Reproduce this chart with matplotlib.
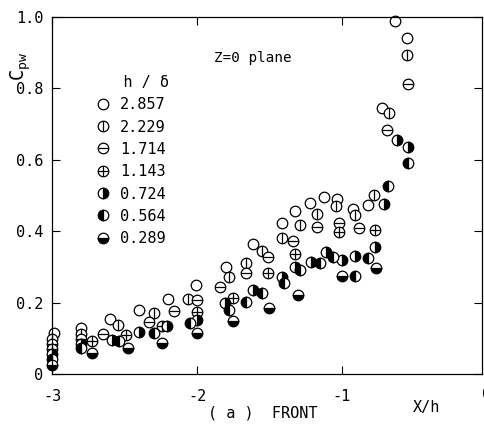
import matplotlib
matplotlib.use("Agg")
import matplotlib.pyplot as plt
from matplotlib.legend_handler import HandlerTuple

plt.rcParams['font.family'] = ['DejaVu Sans Mono', 'DejaVu Sans']
plt.rcParams['mathtext.fontset'] = 'dejavusans'
plt.rcParams['axes.unicode_minus'] = False

# h/delta values and data (X/h, Cpw)
h_delta = ['2.857', '2.229', '1.714', '1.143', '0.724', '0.564', '0.289']

x_2857 = [-2.99, -2.80, -2.60, -2.40, -2.20, -2.01, -1.80, -1.61, -1.41, -1.32,
          -1.22, -1.12, -1.03, -0.92, -0.82, -0.72, -0.63, -0.55]
y_2857 = [0.115, 0.130, 0.154, 0.178, 0.209, 0.250, 0.300, 0.365, 0.424, 0.456,
          0.480, 0.495, 0.490, 0.462, 0.474, 0.745, 0.988, 0.942]

x_2229 = [-3.0, -2.80, -2.55, -2.30, -2.06, -1.78, -1.66, -1.55, -1.41, -1.29,
          -1.17, -1.04, -0.91, -0.78, -0.67, -0.55]
y_2229 = [0.098, 0.112, 0.136, 0.172, 0.209, 0.272, 0.311, 0.345, 0.381, 0.417,
          0.447, 0.470, 0.446, 0.501, 0.732, 0.893]

x_1714 = [-3.0, -2.80, -2.65, -2.33, -2.16, -2.00, -1.84, -1.66, -1.51, -1.34,
          -1.17, -1.02, -0.88, -0.69, -0.54]
y_1714 = [0.084, 0.098, 0.112, 0.147, 0.177, 0.206, 0.245, 0.284, 0.328, 0.372,
          0.413, 0.422, 0.410, 0.684, 0.813]

x_1143 = [-3.0, -2.73, -2.49, -2.24, -2.00, -1.75, -1.51, -1.32, -1.02, -0.77]
y_1143 = [0.070, 0.093, 0.109, 0.135, 0.175, 0.213, 0.284, 0.336, 0.398, 0.404]

x_0724 = [-3.0, -2.80, -2.59, -2.40, -2.21, -2.00, -1.81, -1.61, -1.41, -1.32,
          -1.21, -1.11, -1.00, -0.91, -0.77, -0.71, -0.62, -0.54]
y_0724 = [0.056, 0.084, 0.095, 0.119, 0.135, 0.151, 0.198, 0.234, 0.273, 0.299,
          0.315, 0.343, 0.320, 0.331, 0.355, 0.477, 0.655, 0.636]

x_0564 = [-3.0, -2.80, -2.54, -2.30, -2.05, -1.78, -1.66, -1.55, -1.40, -1.29,
          -1.15, -1.06, -0.91, -0.82, -0.68, -0.54]
y_0564 = [0.042, 0.072, 0.093, 0.114, 0.144, 0.180, 0.203, 0.228, 0.254, 0.290,
          0.311, 0.329, 0.275, 0.325, 0.527, 0.591]

x_0289 = [-3.0, -2.73, -2.48, -2.24, -2.00, -1.75, -1.50, -1.30, -1.00, -0.76]
y_0289 = [0.025, 0.058, 0.074, 0.087, 0.114, 0.148, 0.184, 0.222, 0.275, 0.296]

series = [(x_2857, y_2857, 'open'), (x_2229, y_2229, 'vline'),
          (x_1714, y_1714, 'hline'), (x_1143, y_1143, 'plus'),
          (x_0724, y_0724, 'right'), (x_0564, y_0564, 'left'),
          (x_0289, y_0289, 'bottom')]

MS = 7.6
MEW = 0.9


def draw(ax, x, y, kind):
    if kind in ('open', 'vline', 'hline', 'plus'):
        h1, = ax.plot(x, y, 'o', ms=MS, mfc='white', mec='black', mew=MEW,
                      ls='none', clip_on=False)
        parts = [h1]
        if kind != 'open':
            m = {'vline': '|', 'hline': '_', 'plus': '+'}[kind]
            h2, = ax.plot(x, y, m, ms=MS, mec='black', mew=MEW, ls='none',
                          clip_on=False)
            parts.append(h2)
        return tuple(parts)
    h1, = ax.plot(x, y, 'o', ms=MS, fillstyle=kind, mfc='black',
                  markerfacecoloralt='white', mec='black', mew=MEW, ls='none',
                  clip_on=False)
    return (h1,)


fig = plt.figure(figsize=(4.85, 4.25), dpi=100)
ax = fig.add_axes([0.1082, 0.12, 0.8856, 0.84])

handles = []
for x, y, kind in series:
    handles.append(draw(ax, x, y, kind))

ax.set_xlim(-3, -0.03)
ax.set_ylim(0, 1.0)
ax.set_xticks([-3, -2, -1])
ax.set_xticklabels(['-3', '-2', '-1'])
ax.set_yticks([0, 0.2, 0.4, 0.6, 0.8, 1.0])
ax.set_yticklabels(['0', '0.2', '0.4', '0.6', '0.8', '1.0'])
ax.tick_params(direction='in', length=6, width=0.8, top=True, right=True,
               labelsize=11)
ax.tick_params(axis='x', pad=11)
ax.tick_params(axis='y', pad=6.5)
for s in ax.spines.values():
    s.set_linewidth(0.9)

ax.text(0, -0.058, '0', ha='center', va='center', fontsize=11, clip_on=False)
ax.text(0.872, -0.095, 'X/h', transform=ax.transAxes, ha='center', va='center',
        fontsize=11)
ax.text(0.49, -0.109, '( a )  FRONT', transform=ax.transAxes, ha='center',
        va='center', fontsize=11)
ax.text(-0.074, 0.863, r'$\mathtt{C_{pw}}$', transform=ax.transAxes,
        rotation=90, ha='center', va='center', fontsize=13.5)
ax.text(0.376, 0.885, 'Z=0 plane', transform=ax.transAxes, ha='left',
        va='center', fontsize=10.3)

leg = ax.legend(handles, h_delta, title='   h / \u03b4', loc='upper left',
                bbox_to_anchor=(0.101, 0.838), frameon=False, numpoints=1,
                handlelength=1.0, handletextpad=0.6, labelspacing=0.48,
                fontsize=11, title_fontsize=11, alignment='left',
                borderaxespad=0, borderpad=0,
                handler_map={tuple: HandlerTuple(ndivide=1, pad=0)})

fig.savefig('out.png', dpi=100)
